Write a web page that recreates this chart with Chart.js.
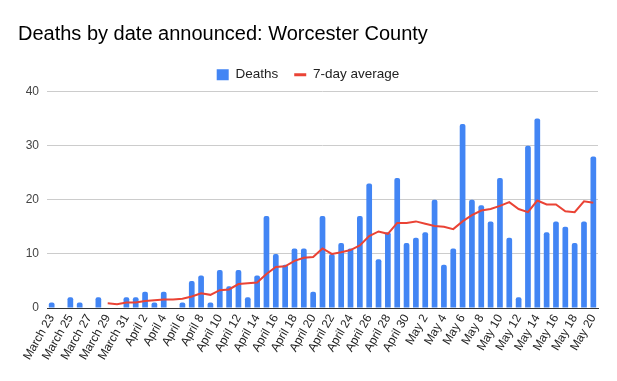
<!DOCTYPE html>
<html>
<head>
<meta charset="utf-8">
<script src="https://cdn.jsdelivr.net/npm/chart.js@4/dist/chart.umd.min.js"></script>
<style>
  html, body { margin: 0; padding: 0; background: #fff; }
  #wrap { width: 617px; height: 381px; position: relative; }
</style>
</head>
<body>
<div id="wrap"><canvas id="c"></canvas></div>
<script>
const categories = [
  "March 23","March 24","March 25","March 26","March 27","March 28","March 29","March 30","March 31",
  "April 1","April 2","April 3","April 4","April 5","April 6","April 7","April 8","April 9","April 10",
  "April 11","April 12","April 13","April 14","April 15","April 16","April 17","April 18","April 19","April 20",
  "April 21","April 22","April 23","April 24","April 25","April 26","April 27","April 28","April 29","April 30",
  "May 1","May 2","May 3","May 4","May 5","May 6","May 7","May 8","May 9","May 10",
  "May 11","May 12","May 13","May 14","May 15","May 16","May 17","May 18","May 19","May 20"
];
const deaths = [
  1,0,2,1,0,2,0,0,2,
  2,3,1,3,0,1,5,6,1,7,
  4,7,2,6,17,10,8,11,11,3,
  17,10,12,11,17,23,9,14,24,12,
  13,14,20,8,11,34,20,19,16,24,
  13,2,30,35,14,16,15,12,16,28
];
const avg7 = [
  null,null,null,null,null,null,0.86,0.71,1.0,
  1.0,1.29,1.43,1.57,1.57,1.71,2.14,2.71,2.43,3.29,
  3.43,4.43,4.57,4.71,6.29,7.57,7.71,8.71,9.29,9.43,
  11.0,10.0,10.29,10.71,11.57,13.29,14.14,13.71,15.71,15.71,
  16.0,15.57,15.14,15.0,14.57,16.0,17.14,18.0,18.29,18.86,
  19.57,18.29,17.71,19.86,19.14,19.14,17.86,17.71,19.71,19.43
];
const yTicks = [0, 10, 20, 30, 40];
const titleText = "Deaths by date announced: Worcester County";

const FONT = "Arial, 'Liberation Sans', sans-serif";

new Chart(document.getElementById('c'), {
  data: {
    labels: categories,
    datasets: [
      {
        type: 'bar',
        label: 'Deaths',
        data: deaths,
        backgroundColor: '#4285F4',
        borderColor: '#4285F4',
        borderWidth: 0,
        borderRadius: { topLeft: 2, topRight: 2, bottomLeft: 0, bottomRight: 0 },
        borderSkipped: 'bottom',
        barPercentage: 0.61,
        categoryPercentage: 1.0,
        order: 1
      },
      {
        type: 'line',
        label: '7-day average',
        data: avg7,
        borderColor: '#EA4335',
        backgroundColor: '#EA4335',
        borderWidth: 2,
        pointRadius: 0,
        pointHoverRadius: 0,
        tension: 0,
        spanGaps: false,
        order: 0
      }
    ]
  },
  options: {
    responsive: true,
    maintainAspectRatio: false,
    animation: false,
    devicePixelRatio: 1,
    layout: { padding: { left: 18, right: 19, top: 0, bottom: 0 } },
    plugins: {
      title: {
        display: true,
        text: titleText,
        align: 'start',
        color: '#000',
        font: { family: FONT, size: 20, weight: 'normal' },
        padding: { top: 22, bottom: 6 }
      },
      legend: {
        display: true,
        position: 'top',
        reverse: true,
        labels: {
          usePointStyle: true,
          pointStyleWidth: 12,
          boxHeight: 11,
          padding: 16,
          color: '#222',
          font: { family: FONT, size: 13.5 },
          generateLabels(chart) {
            const items = Chart.defaults.plugins.legend.labels.generateLabels(chart);
            items.forEach(it => {
              const ds = chart.data.datasets[it.datasetIndex];
              if (ds.type === 'line') {
                it.pointStyle = 'line';
                it.lineWidth = 3;
                it.strokeStyle = '#EA4335';
              } else {
                it.pointStyle = 'rect';
                it.lineWidth = 0;
              }
            });
            return items;
          }
        }
      },
      tooltip: { enabled: false }
    },
    scales: {
      x: {
        grid: { display: false, drawTicks: false },
        border: { display: true, color: '#333', width: 1 },
        ticks: {
          autoSkip: false,
          minRotation: 60,
          maxRotation: 60,
          padding: 4,
          color: '#222',
          font: { family: FONT, size: 12 },
          callback: (v, i) => (i % 2 === 0 ? categories[i] : '')
        },
        afterFit(scale) { scale.height = 73; }
      },
      y: {
        min: yTicks[0],
        max: yTicks[yTicks.length - 1],
        grid: { color: '#ccc', lineWidth: 1, drawTicks: false },
        border: { display: false },
        ticks: {
          stepSize: 10,
          padding: 8,
          color: '#444',
          font: { family: FONT, size: 12 }
        },
        afterFit(scale) { scale.width = 29; }
      }
    }
  }
});
</script>
</body>
</html>
